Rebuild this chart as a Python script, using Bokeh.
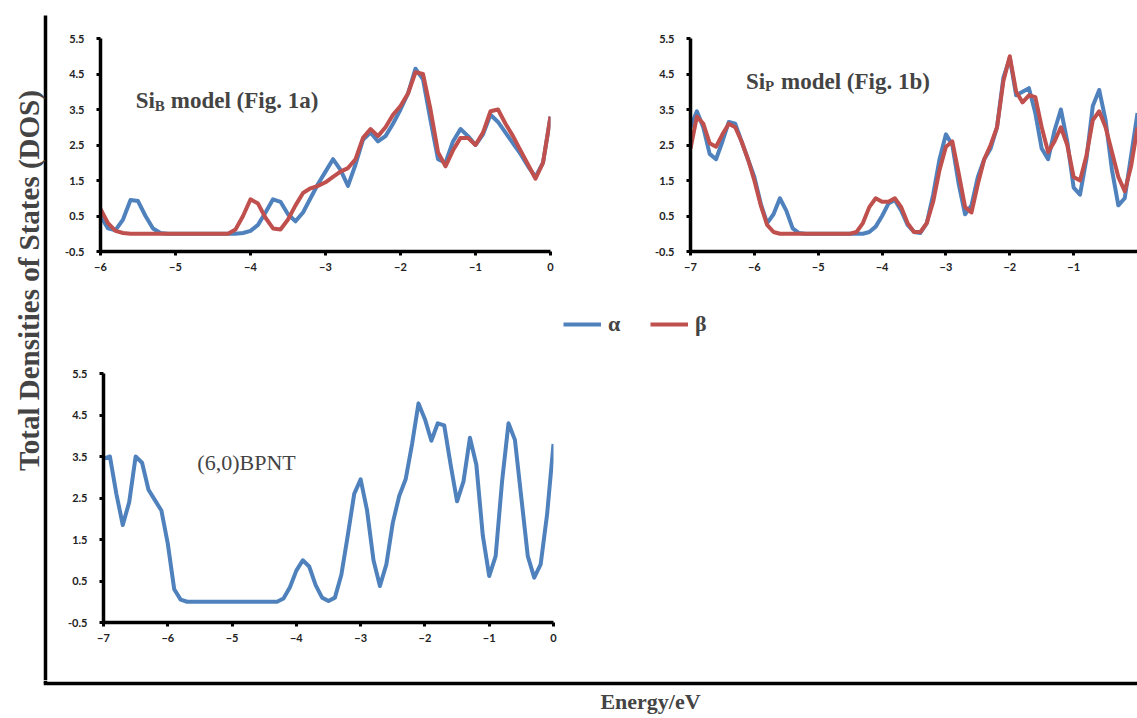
import math
from bokeh.plotting import figure
from bokeh.layouts import row, column
from bokeh.models import Spacer, Label, Legend, LegendItem, FixedTicker, Range1d
from bokeh.embed import file_html
from bokeh.resources import INLINE

BLUE = "#4F81BD"
RED = "#C0504D"

# ---------------- data ----------------
y_ticks = [-0.5, 0.5, 1.5, 2.5, 3.5, 4.5, 5.5]
y_tick_labels = ["-0.5", "0.5", "1.5", "2.5", "3.5", "4.5", "5.5"]
x_ticks_a = [-6, -5, -4, -3, -2, -1, 0]
x_ticks_b = [-7, -6, -5, -4, -3, -2, -1]
x_ticks_c = [-7, -6, -5, -4, -3, -2, -1, 0]

energy_a = [-6.0, -5.9, -5.8, -5.7, -5.6, -5.5, -5.4, -5.3, -5.2, -5.1,
            -5.0, -4.9, -4.8, -4.7, -4.6, -4.5, -4.4, -4.3, -4.2, -4.1,
            -4.0, -3.9, -3.8, -3.7, -3.6, -3.5, -3.4, -3.3, -3.2, -3.1,
            -3.0, -2.9, -2.8, -2.7, -2.6, -2.5, -2.4, -2.3, -2.2, -2.1,
            -2.0, -1.9, -1.8, -1.7, -1.6, -1.5, -1.4, -1.3, -1.2, -1.1,
            -1.0, -0.9, -0.8, -0.7, -0.6, -0.5, -0.4, -0.3, -0.2, -0.1, 0.0]
alpha_a = [0.5, 0.15, 0.1, 0.4, 0.95, 0.92, 0.5, 0.15, 0.02, 0.0,
           0.0, 0.0, 0.0, 0.0, 0.0, 0.0, 0.0, 0.0, 0.0, 0.02,
           0.08, 0.25, 0.6, 0.97, 0.9, 0.55, 0.35, 0.6, 1.0, 1.4,
           1.75, 2.1, 1.8, 1.35, 1.95, 2.65, 2.85, 2.6, 2.75, 3.1,
           3.5, 3.95, 4.65, 4.35, 3.2, 2.1, 2.0, 2.6, 2.95, 2.75,
           2.5, 2.8, 3.35, 3.15, 2.85, 2.55, 2.25, 1.9, 1.6, 2.0, 3.3]
beta_a = [0.7, 0.3, 0.08, 0.02, 0.0, 0.0, 0.0, 0.0, 0.0, 0.0,
          0.0, 0.0, 0.0, 0.0, 0.0, 0.0, 0.0, 0.0, 0.12, 0.5,
          0.97, 0.85, 0.45, 0.15, 0.12, 0.4, 0.8, 1.15, 1.28, 1.35,
          1.45, 1.6, 1.75, 1.85, 2.1, 2.7, 2.95, 2.75, 3.0, 3.35,
          3.6, 3.95, 4.55, 4.5, 3.5, 2.3, 1.9, 2.35, 2.7, 2.7,
          2.5, 2.85, 3.45, 3.5, 3.1, 2.75, 2.35, 1.95, 1.55, 2.0, 3.3]

energy_bc = [-7.0, -6.9, -6.8, -6.7, -6.6, -6.5, -6.4, -6.3, -6.2, -6.1,
             -6.0, -5.9, -5.8, -5.7, -5.6, -5.5, -5.4, -5.3, -5.2, -5.1,
             -5.0, -4.9, -4.8, -4.7, -4.6, -4.5, -4.4, -4.3, -4.2, -4.1,
             -4.0, -3.9, -3.8, -3.7, -3.6, -3.5, -3.4, -3.3, -3.2, -3.1,
             -3.0, -2.9, -2.8, -2.7, -2.6, -2.5, -2.4, -2.3, -2.2, -2.1,
             -2.0, -1.9, -1.8, -1.7, -1.6, -1.5, -1.4, -1.3, -1.2, -1.1,
             -1.0, -0.9, -0.8, -0.7, -0.6, -0.5, -0.4, -0.3, -0.2, -0.1, 0.0]
alpha_b = [3.0, 3.45, 3.0, 2.25, 2.1, 2.6, 3.15, 3.1, 2.6, 2.1,
           1.6, 0.85, 0.3, 0.55, 1.0, 0.65, 0.15, 0.02, 0.0, 0.0,
           0.0, 0.0, 0.0, 0.0, 0.0, 0.0, 0.0, 0.0, 0.05, 0.2,
           0.5, 0.85, 0.95, 0.65, 0.25, 0.05, 0.02, 0.3, 1.1, 2.1,
           2.8, 2.5, 1.4, 0.55, 0.8, 1.6, 2.1, 2.4, 3.0, 4.4,
           4.95, 3.9, 4.0, 4.1, 3.4, 2.4, 2.1, 2.9, 3.5, 2.6,
           1.3, 1.1, 2.1, 3.6, 4.05, 3.2, 1.8, 0.8, 1.0, 2.2, 3.4]
beta_b = [2.4, 3.3, 3.1, 2.55, 2.45, 2.8, 3.1, 3.0, 2.6, 2.1,
          1.5, 0.8, 0.25, 0.05, 0.0, 0.0, 0.0, 0.0, 0.0, 0.0,
          0.0, 0.0, 0.0, 0.0, 0.0, 0.0, 0.05, 0.3, 0.75, 1.0,
          0.9, 0.9, 1.0, 0.75, 0.3, 0.05, 0.05, 0.3, 0.9, 1.8,
          2.45, 2.6, 1.7, 0.75, 0.6, 1.4, 2.1, 2.5, 3.0, 4.3,
          5.0, 4.0, 3.7, 3.9, 3.85, 3.0, 2.3, 2.6, 3.0, 2.5,
          1.6, 1.5, 2.2, 3.2, 3.45, 3.0, 2.3, 1.6, 1.2, 1.9, 3.0]
alpha_c = [3.45, 3.5, 2.6, 1.85, 2.4, 3.5, 3.35, 2.7, 2.45, 2.2,
           1.4, 0.3, 0.05, 0.0, 0.0, 0.0, 0.0, 0.0, 0.0, 0.0,
           0.0, 0.0, 0.0, 0.0, 0.0, 0.0, 0.0, 0.0, 0.08, 0.35,
           0.75, 1.0, 0.85, 0.4, 0.1, 0.02, 0.1, 0.65, 1.6, 2.6,
           2.95, 2.2, 1.0, 0.38, 0.9, 1.9, 2.55, 2.95, 3.8, 4.78,
           4.4, 3.88, 4.3, 4.25, 3.3, 2.42, 2.9, 3.95, 3.3, 1.6,
           0.62, 1.1, 2.9, 4.3, 3.9, 2.5, 1.1, 0.58, 0.9, 2.1, 3.8]

legend_labels = ["α", "β"]
y_title = "Total Densities of States (DOS)"
x_title = "Energy/eV"

SERIF = "Liberation Serif"
SANS = "Lato"


def make_panel(width, height, left, right, top, bottom, x_start, x_end, xt):
    p = figure(width=width, height=height,
               x_range=Range1d(x_start, x_end), y_range=Range1d(-0.5, 5.5),
               min_border_left=left, min_border_right=right,
               min_border_top=top, min_border_bottom=bottom,
               toolbar_location=None, output_backend="svg")
    p.outline_line_color = None
    p.grid.visible = False
    for ax in (p.xaxis[0], p.yaxis[0]):
        ax.axis_line_width = 3.5
        ax.axis_line_color = "black"
        ax.major_tick_line_width = 3
        ax.major_tick_line_color = "black"
        ax.major_tick_out = 4
        ax.major_tick_in = 0
        ax.minor_tick_line_color = None
        ax.major_label_text_font = SANS
        ax.major_label_text_font_style = "bold"
        ax.major_label_text_font_size = "11px"
        ax.major_label_text_color = "#222222"
    p.yaxis.ticker = FixedTicker(ticks=y_ticks)
    p.yaxis.major_label_overrides = {t: s for t, s in zip(y_ticks, y_tick_labels)}
    p.xaxis.ticker = FixedTicker(ticks=xt)
    p.yaxis.major_label_standoff = 12
    p.xaxis.major_label_standoff = 7
    return p


def title_parts(p, x, y, main, sub, rest):
    p.add_layout(Label(x=x, y=y, text=main, text_font=SERIF, text_font_style="bold",
                       text_font_size="23px", text_baseline="middle", text_align="left"))
    p.add_layout(Label(x=x, y=y, x_offset=19, y_offset=-5, text=sub, text_font=SERIF,
                       text_font_style="bold", text_font_size="15px",
                       text_baseline="middle", text_align="left"))
    p.add_layout(Label(x=x, y=y, x_offset=35, text=rest, text_font=SERIF,
                       text_font_style="bold", text_font_size="23px",
                       text_baseline="middle", text_align="left"))


# panel (a)
p1 = make_panel(520, 290, 45, 25, 38, 39, -6, 0, x_ticks_a)
p1.line(energy_a, alpha_a, line_color=BLUE, line_width=4, line_join="round")
p1.line(energy_a, beta_a, line_color=RED, line_width=4, line_join="round")
title_parts(p1, -5.53, 3.75, "Si", "B", "model (Fig. 1a)")

# panel (b)
p2 = make_panel(562, 290, 115, 0, 38, 39, -7, 0, x_ticks_b)
p2.line(energy_bc, alpha_b, line_color=BLUE, line_width=4, line_join="round")
p2.line(energy_bc, beta_b, line_color=RED, line_width=4, line_join="round")
title_parts(p2, -6.13, 4.29, "Si", "P", "model (Fig. 1b)")

# panel (c)
p3 = make_panel(520, 320, 48, 22, 13, 58, -7, 0, x_ticks_c)
p3.line(energy_bc, alpha_c, line_color=BLUE, line_width=4, line_join="round")
p3.add_layout(Label(x=-5.54, y=3.36, text="(6,0)BPNT", text_font=SERIF,
                    text_font_size="22px", text_baseline="middle", text_align="left"))

# legend strip
leg = figure(width=1082, height=70, x_range=Range1d(0, 1), y_range=Range1d(0, 1),
             min_border=0, x_axis_location=None, y_axis_location=None,
             toolbar_location=None, output_backend="svg")
leg.outline_line_color = None
leg.grid.visible = False
ra = leg.line(x=[-5, -4], y=[-5, -5], line_color=BLUE, line_width=4)
rb = leg.line(x=[-5, -4], y=[-5, -5], line_color=RED, line_width=4)
legend = Legend(items=[LegendItem(label=legend_labels[0], renderers=[ra]),
                       LegendItem(label=legend_labels[1], renderers=[rb])],
                orientation="horizontal", location=(508, 23),
                glyph_width=38, glyph_height=20, label_standoff=7, spacing=22,
                padding=0, margin=0, border_line_color=None,
                background_fill_alpha=0,
                label_text_font=SERIF, label_text_font_style="bold",
                label_text_font_size="22px")
leg.add_layout(legend)

# left strip with frame line and y title
strip = figure(width=55, height=680, x_range=Range1d(0, 55), y_range=Range1d(0, 680),
               min_border=0, x_axis_location=None, y_axis_location=None,
               toolbar_location=None, output_backend="svg")
strip.outline_line_color = None
strip.grid.visible = False
strip.segment(x0=[45], y0=[0], x1=[45], y1=[665], line_width=3.5, line_color="black")
strip.add_layout(Label(x=28, y=400, text=y_title, angle=math.pi / 2,
                       text_font=SERIF, text_font_style="bold", text_font_size="29px",
                       text_align="center", text_baseline="middle"))

# bottom strip with frame line and x title
bot = figure(width=1137, height=36, x_range=Range1d(0, 1137), y_range=Range1d(0, 36),
             min_border=0, x_axis_location=None, y_axis_location=None,
             toolbar_location=None, output_backend="svg")
bot.outline_line_color = None
bot.grid.visible = False
bot.segment(x0=[43.25, 45], y0=[33, 36], x1=[1137, 45], y1=[33, 33],
            line_width=3.5, line_color="black")
bot.add_layout(Label(x=650, y=15, text=x_title, text_font=SERIF,
                     text_font_style="bold", text_font_size="22px",
                     text_align="center", text_baseline="middle"))

right_block = column(row(p1, p2), leg, row(p3, Spacer(width=562, height=320)))
layout = column(row(strip, right_block), bot)

open("out.html", "w").write(file_html(layout, INLINE, "DOS"))
